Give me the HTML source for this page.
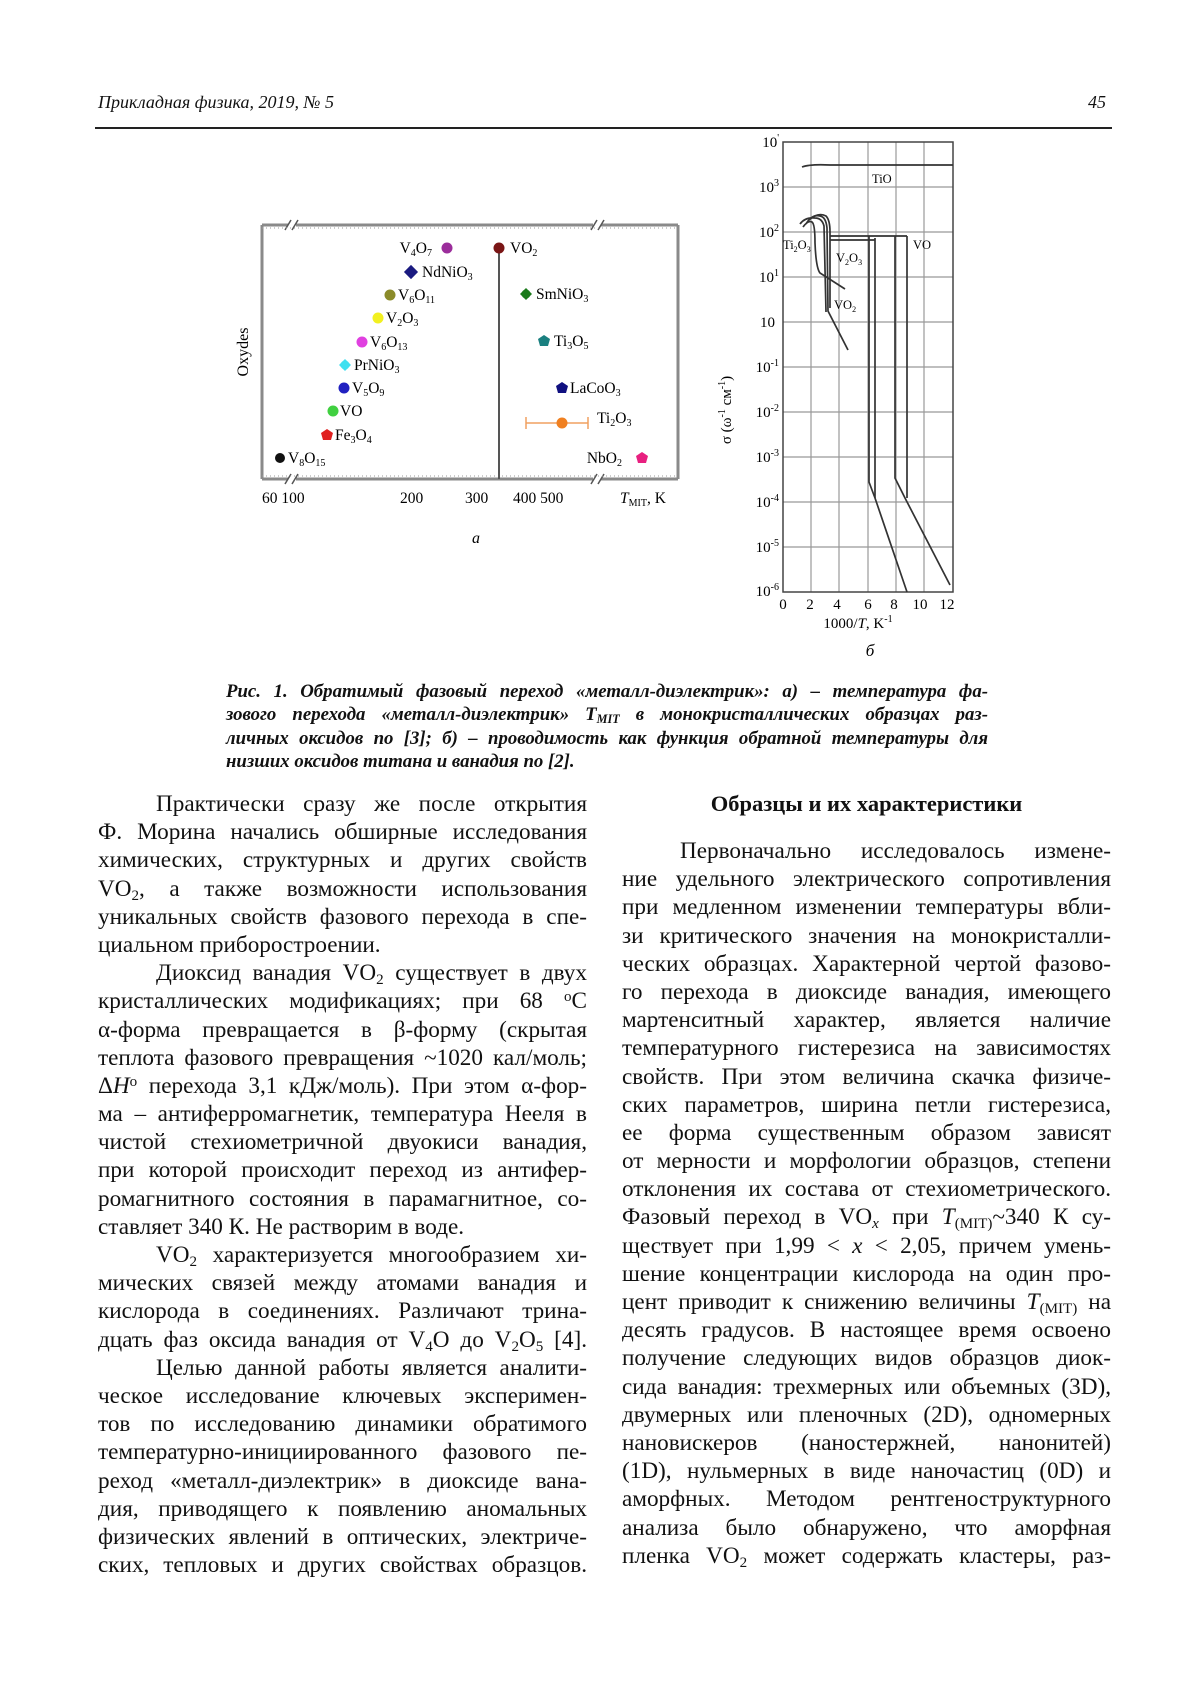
<!DOCTYPE html>
<html><head><meta charset="utf-8">
<style>
body{margin:0;background:#fff;}
#p{position:relative;width:1200px;height:1698px;background:#fff;font-family:"Liberation Serif","DejaVu Serif",serif;color:#111;overflow:hidden;}
.a{position:absolute;}
.col{position:absolute;width:489px;font-size:23.2px;line-height:28.2px;}
.col div{text-align:justify;text-align-last:justify;height:28.2px;white-space:nowrap;}
.col div.l{text-align-last:left;}
.col div.i{padding-left:58px;}
.cap{position:absolute;left:226px;top:680px;width:762px;font-size:18.8px;line-height:23.3px;font-weight:bold;font-style:italic;}
.cap div{text-align:justify;text-align-last:justify;white-space:nowrap;}
.cap div.l{text-align-last:left;}
sub{font-size:65%;vertical-align:-0.25em;line-height:0;}
sup{font-size:65%;vertical-align:0.45em;line-height:0;}
svg text{font-family:"Liberation Serif",serif;}
</style></head><body><div id="p">
<div class="a" style="left:98px;top:92px;font-size:18px;font-style:italic;">Прикладная физика, 2019, № 5</div>
<div class="a" style="left:1088px;top:92px;font-size:18px;font-style:italic;">45</div>
<div class="a" style="left:95px;top:127px;width:1017px;height:1.5px;background:#222;"></div>

<svg class="a" style="left:0;top:0" width="1200" height="680" viewBox="0 0 1200 680">
<!-- chart a -->
<g stroke="#8a8a8a" stroke-width="3" fill="none">
<line x1="262" y1="225" x2="288" y2="225"/><line x1="296" y1="225" x2="593" y2="225"/><line x1="601" y1="225" x2="678" y2="225"/>
<line x1="262" y1="479" x2="288" y2="479"/><line x1="296" y1="479" x2="593" y2="479"/><line x1="601" y1="479" x2="678" y2="479"/>
<line x1="262" y1="225" x2="262" y2="479"/><line x1="678" y1="225" x2="678" y2="479"/>
</g>
<g stroke="#555" stroke-width="1.5">
<line x1="285" y1="230" x2="291" y2="220"/><line x1="292" y1="230" x2="298" y2="220"/>
<line x1="591" y1="230" x2="597" y2="220"/><line x1="598" y1="230" x2="604" y2="220"/>
<line x1="285" y1="484" x2="291" y2="474"/><line x1="292" y1="484" x2="298" y2="474"/>
<line x1="591" y1="484" x2="597" y2="474"/><line x1="598" y1="484" x2="604" y2="474"/>
</g>
<g stroke="#999" stroke-width="1" stroke-dasharray="1 3">
<line x1="262" y1="228" x2="678" y2="228"/><line x1="262" y1="476" x2="678" y2="476"/>
</g>
<line x1="499" y1="248" x2="499" y2="479" stroke="#555" stroke-width="2"/>
<text x="248" y="352" font-size="16" transform="rotate(-90 248 352)" text-anchor="middle">Oxydes</text>
<g font-size="15.5">
<text x="262" y="503">60 100</text><text x="400" y="503">200</text><text x="465" y="503">300</text>
<text x="513" y="503">400 500</text>
<text x="620" y="503" font-style="italic">T<tspan font-size="10" font-style="normal" dy="3">MIT</tspan><tspan dy="-3" font-style="normal">, K</tspan></text>
</g>
<g font-size="15.5">
<circle cx="447" cy="248" r="5.5" fill="#9b2d9b"/><text x="432" y="253" text-anchor="end">V<tspan font-size="10" dy="3">4</tspan><tspan dy="-3">O</tspan><tspan font-size="10" dy="3">7</tspan></text>
<circle cx="499" cy="248" r="5.5" fill="#7a1515"/><text x="510" y="253">VO<tspan font-size="10" dy="3">2</tspan></text>
<rect x="406" y="267" width="10" height="10" fill="#1a1a80" transform="rotate(45 411 272)"/><text x="422" y="277">NdNiO<tspan font-size="10" dy="3">3</tspan></text>
<circle cx="390" cy="295" r="5.5" fill="#8b8b2a"/><text x="398" y="300">V<tspan font-size="10" dy="3">6</tspan><tspan dy="-3">O</tspan><tspan font-size="10" dy="3">11</tspan></text>
<circle cx="378" cy="318" r="5.5" fill="#f2f020"/><text x="386" y="323">V<tspan font-size="10" dy="3">2</tspan><tspan dy="-3">O</tspan><tspan font-size="10" dy="3">3</tspan></text>
<circle cx="362" cy="342" r="5.5" fill="#e040e0"/><text x="370" y="347">V<tspan font-size="10" dy="3">6</tspan><tspan dy="-3">O</tspan><tspan font-size="10" dy="3">13</tspan></text>
<polygon points="345,359 351,365 345,371 339,365" fill="#40e0f0"/><circle cx="345" cy="365" r="4.5" fill="#40e0f0"/><text x="354" y="370">PrNiO<tspan font-size="10" dy="3">3</tspan></text>
<circle cx="344" cy="388" r="5.5" fill="#2020c0"/><text x="352" y="393">V<tspan font-size="10" dy="3">5</tspan><tspan dy="-3">O</tspan><tspan font-size="10" dy="3">9</tspan></text>
<circle cx="333" cy="411" r="5.5" fill="#40d040"/><text x="340" y="416">VO</text>
<polygon points="327,429 333,433 331,440 323,440 321,433" fill="#e02020"/><text x="335" y="440">Fe<tspan font-size="10" dy="3">3</tspan><tspan dy="-3">O</tspan><tspan font-size="10" dy="3">4</tspan></text>
<circle cx="280" cy="458" r="5" fill="#111"/><text x="288" y="463">V<tspan font-size="10" dy="3">8</tspan><tspan dy="-3">O</tspan><tspan font-size="10" dy="3">15</tspan></text>
<polygon points="526,288 532,294 526,300 520,294" fill="#1a7a1a"/><circle cx="526" cy="294" r="4.5" fill="#1a7a1a"/><text x="536" y="299">SmNiO<tspan font-size="10" dy="3">3</tspan></text>
<polygon points="544,335 550,339 548,346 540,346 538,339" fill="#1a8080"/><text x="554" y="346">Ti<tspan font-size="10" dy="3">3</tspan><tspan dy="-3">O</tspan><tspan font-size="10" dy="3">5</tspan></text>
<polygon points="562,382 568,386 566,393 558,393 556,386" fill="#101080"/><text x="570" y="393">LaCoO<tspan font-size="10" dy="3">3</tspan></text>
<g stroke="#f0a060" stroke-width="1.5"><line x1="526" y1="423" x2="588" y2="423"/><line x1="526" y1="417" x2="526" y2="429"/><line x1="588" y1="417" x2="588" y2="429"/></g>
<circle cx="562" cy="423" r="5.5" fill="#f08020"/><text x="597" y="423">Ti<tspan font-size="10" dy="3">2</tspan><tspan dy="-3">O</tspan><tspan font-size="10" dy="3">3</tspan></text>
<polygon points="642,452 648,456 646,463 638,463 636,456" fill="#e82080"/><text x="622" y="463" text-anchor="end">NbO<tspan font-size="10" dy="3">2</tspan></text>
</g>
<text x="472" y="543" font-size="16" font-style="italic">а</text>

<!-- chart b -->
<g stroke="#999" stroke-width="1.2">
<line x1="811" y1="142" x2="811" y2="592"/><line x1="839" y1="142" x2="839" y2="592"/><line x1="868" y1="142" x2="868" y2="592"/>
<line x1="896" y1="142" x2="896" y2="592"/><line x1="924" y1="142" x2="924" y2="592"/>
<line x1="783" y1="187" x2="953" y2="187"/><line x1="783" y1="232" x2="953" y2="232"/><line x1="783" y1="277" x2="953" y2="277"/>
<line x1="783" y1="322" x2="953" y2="322"/><line x1="783" y1="367" x2="953" y2="367"/><line x1="783" y1="412" x2="953" y2="412"/>
<line x1="783" y1="457" x2="953" y2="457"/><line x1="783" y1="502" x2="953" y2="502"/><line x1="783" y1="547" x2="953" y2="547"/>
</g>
<rect x="783" y="142" width="170" height="450" fill="none" stroke="#444" stroke-width="1.5"/>
<g font-size="15" text-anchor="end">
<text x="779" y="147">10<tspan font-size="10" dy="-6">'</tspan></text>
<text x="779" y="192">10<tspan font-size="10" dy="-6">3</tspan></text>
<text x="779" y="237">10<tspan font-size="10" dy="-6">2</tspan></text>
<text x="779" y="282">10<tspan font-size="10" dy="-6">1</tspan></text>
<text x="775" y="327">10</text>
<text x="779" y="372">10<tspan font-size="10" dy="-6">-1</tspan></text>
<text x="779" y="417">10<tspan font-size="10" dy="-6">-2</tspan></text>
<text x="779" y="462">10<tspan font-size="10" dy="-6">-3</tspan></text>
<text x="779" y="507">10<tspan font-size="10" dy="-6">-4</tspan></text>
<text x="779" y="552">10<tspan font-size="10" dy="-6">-5</tspan></text>
<text x="779" y="596">10<tspan font-size="10" dy="-6">-6</tspan></text>
</g>
<g font-size="15" text-anchor="middle">
<text x="783" y="609">0</text><text x="810" y="609">2</text><text x="837" y="609">4</text><text x="868" y="609">6</text>
<text x="894" y="609">8</text><text x="920" y="609">10</text><text x="947" y="609">12</text>
</g>
<text x="858" y="628" font-size="15" text-anchor="middle">1000/<tspan font-style="italic">T</tspan>, K<tspan font-size="10" dy="-6">-1</tspan></text>
<text x="870" y="656" font-size="17" font-style="italic" text-anchor="middle">б</text>
<text x="731" y="410" font-size="15" text-anchor="middle" transform="rotate(-90 731 410)">σ (ω<tspan font-size="10" dy="-6">-1</tspan><tspan dy="6"> см</tspan><tspan font-size="10" dy="-6">-1</tspan><tspan dy="6">)</tspan></text>
<g fill="none" stroke="#333" stroke-width="1.7">
<path d="M802,167 Q810,164 830,165 L953,165"/>
<path d="M800,224 Q805,217 815,218 Q822,218 824,226 L826,312"/>
<path d="M806,224 Q812,214 820,216 Q826,217 827,228 L828,311 L848,350"/>
<path d="M803,227 Q808,220 812,222 Q815,224 815,243 Q816,268 820,273 L845,289"/>
<path d="M809,220 Q818,212 826,216 Q830,220 830,232 L830,308"/>
<path d="M830,236 L907,236"/>
<path d="M830,240 L875,240"/>
<path d="M869,236 L869,482 L875,498 L907,592"/>
<path d="M875,238 L875,498"/>
<path d="M895,236 L895,478 L905,498 L950,585"/>
<path d="M907,236 L907,498"/>
</g>
<g font-size="12.5">
<text x="872" y="183">TiO</text>
<text x="783" y="249">Ti<tspan font-size="8" dy="3">2</tspan><tspan dy="-3">O</tspan><tspan font-size="8" dy="3">3</tspan></text>
<text x="836" y="262">V<tspan font-size="8" dy="3">2</tspan><tspan dy="-3">O</tspan><tspan font-size="8" dy="3">3</tspan></text>
<text x="913" y="249">VO</text>
<text x="834" y="309">VO<tspan font-size="8" dy="3">2</tspan></text>
</g>
</svg>

<div class="cap">
<div>Рис. 1. Обратимый фазовый переход «металл-диэлектрик»: а) – температура фа-</div>
<div>зового перехода «металл-диэлектрик» T<sub>MIT</sub> в монокристаллических образцах раз-</div>
<div>личных оксидов по [3]; б) – проводимость как функция обратной температуры для</div>
<div class="l">низших оксидов титана и ванадия по [2].</div>
</div>

<div class="col" style="left:98px;top:790px;">
<div class="i">Практически сразу же после открытия</div>
<div>Ф. Морина начались обширные исследования</div>
<div>химических, структурных и других свойств</div>
<div>VO<sub>2</sub>, а также возможности использования</div>
<div>уникальных свойств фазового перехода в спе-</div>
<div class="l">циальном приборостроении.</div>
<div class="i">Диоксид ванадия VO<sub>2</sub> существует в двух</div>
<div>кристаллических модификациях; при 68 <sup>o</sup>C</div>
<div>α-форма превращается в β-форму (скрытая</div>
<div>теплота фазового превращения ~1020 кал/моль;</div>
<div>Δ<i>H</i><sup>o</sup> перехода 3,1 кДж/моль). При этом α-фор-</div>
<div>ма – антиферромагнетик, температура Нееля в</div>
<div>чистой стехиометричной двуокиси ванадия,</div>
<div>при которой происходит переход из антифер-</div>
<div>ромагнитного состояния в парамагнитное, со-</div>
<div class="l">ставляет 340 К. Не растворим в воде.</div>
<div class="i">VO<sub>2</sub> характеризуется многообразием хи-</div>
<div>мических связей между атомами ванадия и</div>
<div>кислорода в соединениях. Различают трина-</div>
<div>дцать фаз оксида ванадия от V<sub>4</sub>O до V<sub>2</sub>O<sub>5</sub> [4].</div>
<div class="i">Целью данной работы является аналити-</div>
<div>ческое исследование ключевых эксперимен-</div>
<div>тов по исследованию динамики обратимого</div>
<div>температурно-инициированного фазового пе-</div>
<div>реход «металл-диэлектрик» в диоксиде вана-</div>
<div>дия, приводящего к появлению аномальных</div>
<div>физических явлений в оптических, электриче-</div>
<div>ских, тепловых и других свойствах образцов.</div>
</div>

<div class="a" style="left:622px;top:790px;width:489px;font-size:22.5px;line-height:28.2px;font-weight:bold;text-align:center;">Образцы и их характеристики</div>

<div class="col" style="left:622px;top:837px;">
<div class="i">Первоначально исследовалось измене-</div>
<div>ние удельного электрического сопротивления</div>
<div>при медленном изменении температуры вбли-</div>
<div>зи критического значения на монокристалли-</div>
<div>ческих образцах. Характерной чертой фазово-</div>
<div>го перехода в диоксиде ванадия, имеющего</div>
<div>мартенситный характер, является наличие</div>
<div>температурного гистерезиса на зависимостях</div>
<div>свойств. При этом величина скачка физиче-</div>
<div>ских параметров, ширина петли гистерезиса,</div>
<div>ее форма существенным образом зависят</div>
<div>от мерности и морфологии образцов, степени</div>
<div>отклонения их состава от стехиометрического.</div>
<div>Фазовый переход в VO<sub><i>x</i></sub> при <i>T</i><sub>(MIT)</sub>~340 К су-</div>
<div>ществует при 1,99 &lt; <i>x</i> &lt; 2,05, причем умень-</div>
<div>шение концентрации кислорода на один про-</div>
<div>цент приводит к снижению величины <i>T</i><sub>(MIT)</sub> на</div>
<div>десять градусов. В настоящее время освоено</div>
<div>получение следующих видов образцов диок-</div>
<div>сида ванадия: трехмерных или объемных (3D),</div>
<div>двумерных или пленочных (2D), одномерных</div>
<div>нановискеров (наностержней, нанонитей)</div>
<div>(1D), нульмерных в виде наночастиц (0D) и</div>
<div>аморфных. Методом рентгеноструктурного</div>
<div>анализа было обнаружено, что аморфная</div>
<div>пленка VO<sub>2</sub> может содержать кластеры, раз-</div>
</div>
</div></body></html>
